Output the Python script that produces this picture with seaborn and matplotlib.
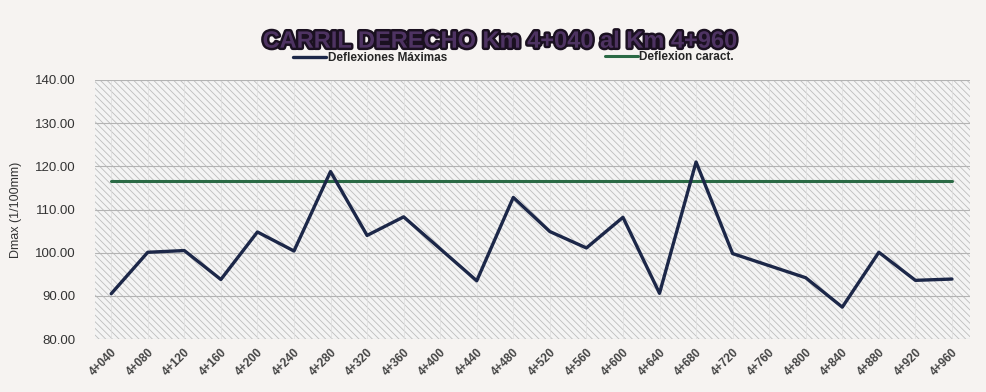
import matplotlib
matplotlib.use("Agg")
import matplotlib.pyplot as plt
import matplotlib.patheffects as pe
from matplotlib.patches import Rectangle
from matplotlib.lines import Line2D
import seaborn as sns
import pandas as pd
import numpy as np

# ---- data ----
stations = ["4+040", "4+080", "4+120", "4+160", "4+200", "4+240", "4+280", "4+320",
            "4+360", "4+400", "4+440", "4+480", "4+520", "4+560", "4+600", "4+640",
            "4+680", "4+720", "4+760", "4+800", "4+840", "4+880", "4+920", "4+960"]
deflexiones_max = [90.5, 100.1, 100.5, 93.8, 104.8, 100.4, 118.8, 104.0,
                   108.3, 100.9, 93.5, 112.8, 104.9, 101.1, 108.2, 90.6,
                   121.0, 99.8, 97.0, 94.2, 87.4, 100.1, 93.6, 93.9]
deflexion_caract = [116.6] * len(stations)
y_ticks = [80, 90, 100, 110, 120, 130, 140]

title = "CARRIL DERECHO Km 4+040 al Km 4+960"
label_max = "Deflexiones Máximas"
label_car = "Deflexion caract."
ylabel = "Dmax (1/100mm)"

sns.set_theme(style="white")
plt.rcParams["font.family"] = ["Liberation Sans", "DejaVu Sans"]
plt.rcParams["hatch.linewidth"] = 0.6
plt.rcParams["hatch.color"] = "#bdbdbd"

df = pd.DataFrame({
    "pos": np.arange(len(stations)),
    "station": stations,
    "max": deflexiones_max,
    "car": deflexion_caract,
})

fig = plt.figure(figsize=(9.87, 3.92), dpi=100)
fig.patch.set_facecolor("#f6f3f1")
ax = fig.add_axes([0.096, 0.135, 0.887, 0.661])
ax.set_facecolor("white")

# hatched plot area
ax.add_patch(Rectangle((0, 0), 1, 1, transform=ax.transAxes, facecolor="#f4f4f4",
                       edgecolor="#bdbdbd", hatch="\\\\\\\\\\", lw=0, zorder=0))

navy = "#1c2748"
green = "#2b6a45"
sns.lineplot(data=df, x="pos", y="car", ax=ax, color=green, lw=2.2, zorder=3)
sns.lineplot(data=df, x="pos", y="max", ax=ax, color=navy, lw=2.4, zorder=4)

ax.set_xlim(-0.45, 23.5)
ax.set_ylim(80, 140)
ax.set_yticks(y_ticks)
ax.set_yticklabels([f"{v:.2f}" for v in y_ticks], fontsize=9.5, color="#333333")
ax.set_xticks(df["pos"])
ax.set_xticklabels(stations, rotation=45, ha="right", rotation_mode="anchor",
                   fontsize=8.5, fontweight="bold", color="#444444")
ax.tick_params(axis="x", pad=5, length=0)
ax.tick_params(axis="y", pad=14, length=0)
ax.set_xlabel("")
ax.set_ylabel(ylabel, fontsize=9, color="#333333", labelpad=2)
ax.yaxis.set_label_coords(-0.083, 0.5)

ax.grid(True, axis="y", color="#b3b3b3", lw=0.8, zorder=1)
ax.grid(True, axis="x", color="#dedede", lw=0.5, zorder=1)
ax.set_axisbelow(True)
for s in ax.spines.values():
    s.set_visible(False)

# title
fig.text(0.507, 0.895, title, ha="center", va="center", fontsize=17, fontweight="bold",
         color="#4e3362",
         path_effects=[pe.Stroke(linewidth=3.5, foreground="#1a1020"), pe.Normal()])

# legend
handles = [Line2D([], [], color=navy, lw=2.4), Line2D([], [], color=green, lw=2.2)]
fig.legend([handles[0]], [label_max], loc="center", bbox_to_anchor=(0.375, 0.852),
           frameon=False, prop={"size": 8.5, "weight": "bold"},
           handlelength=2.8, handletextpad=0.1)
fig.legend([handles[1]], [label_car], loc="center", bbox_to_anchor=(0.678, 0.855),
           frameon=False, prop={"size": 8.5, "weight": "bold"},
           handlelength=2.8, handletextpad=0.1)

fig.savefig("out.png", dpi=100, facecolor=fig.get_facecolor())
